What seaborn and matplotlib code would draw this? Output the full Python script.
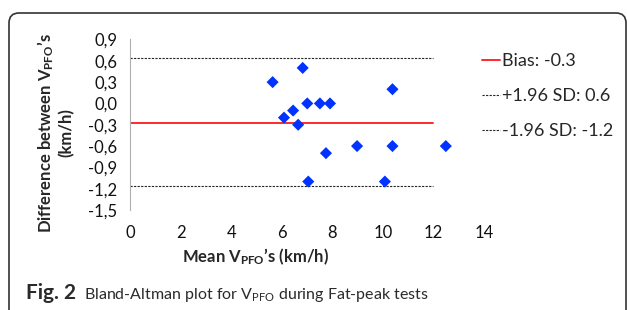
import matplotlib
matplotlib.use("Agg")
import matplotlib.pyplot as plt
import matplotlib.patches as mpatches
import matplotlib.transforms as mtransforms
from matplotlib.ticker import FuncFormatter
import pandas as pd
import seaborn as sns

# Data
mean_speed = [5.64, 6.83, 7.01, 7.51, 7.91, 10.38, 6.09, 6.45, 6.65, 7.75, 8.98, 10.38, 12.49, 7.05, 10.08]
speed_diff = [0.30, 0.50, 0.00, 0.00, 0.00, 0.20, -0.20, -0.10, -0.30, -0.70, -0.60, -0.60, -0.60, -1.10, -1.10]

line_x = [0, 12]
bias = -0.27
upper_loa = 0.635
lower_loa = -1.165
legend_labels = ["Bias: -0.3", "+1.96 SD: 0.6", "-1.96 SD: -1.2"]

x_ticks = [0, 2, 4, 6, 8, 10, 12, 14]
y_ticks = [-1.5, -1.2, -0.9, -0.6, -0.3, 0.0, 0.3, 0.6, 0.9]

# Style
sns.set_style("white")
plt.rcParams["font.family"] = ["Lato", "DejaVu Sans"]
plt.rcParams["mathtext.fontset"] = "custom"
plt.rcParams["mathtext.rm"] = "Lato"
plt.rcParams["mathtext.bf"] = "Lato:bold"
plt.rcParams["mathtext.default"] = "regular"

fig = plt.figure(figsize=(6.27, 3.10), dpi=100)
ax = fig.add_axes([130 / 627, 100 / 310, 354 / 627, 170.5 / 310])

points = pd.DataFrame({"mean": mean_speed, "diff": speed_diff})
sns.scatterplot(data=points, x="mean", y="diff", marker="D", s=38,
                color="#0033ff", edgecolor="none", ax=ax, zorder=3)

# Bias and limits of agreement
sns.lineplot(x=line_x, y=[bias, bias], color="#ff2a2a", linewidth=1.4,
             label=legend_labels[0], ax=ax)
sns.lineplot(x=line_x, y=[upper_loa, upper_loa], color="#222222", linewidth=0.8,
             linestyle=(0, (2, 1.2)), label=legend_labels[1], ax=ax)
sns.lineplot(x=line_x, y=[lower_loa, lower_loa], color="#222222", linewidth=0.8,
             linestyle=(0, (2, 1.2)), label=legend_labels[2], ax=ax)

ax.set_xlim(0, 14)
ax.set_ylim(-1.5, 0.9)
ax.set_xticks(x_ticks)
ax.set_yticks(y_ticks)
ax.yaxis.set_major_formatter(FuncFormatter(lambda v, p: f"{v:.1f}".replace(".", ",").replace("-0,0", "0,0")))
ax.tick_params(axis="both", length=0, labelsize=12, colors="#111111")
ax.tick_params(axis="x", pad=11)
ax.tick_params(axis="y", pad=9)
ax.set_xlabel("")
ax.set_ylabel("")

for side in ["top", "right", "bottom"]:
    ax.spines[side].set_visible(False)
ax.spines["left"].set_color("#b0b0b0")
ax.spines["left"].set_linewidth(0.8)

handles, labels = ax.get_legend_handles_labels()
ax.get_legend().remove()
fig.legend(handles, labels, loc="upper left", bbox_to_anchor=(482 / 627, 1 - 53 / 310),
           frameon=False, fontsize=13, handlelength=1.0, handletextpad=0.12,
           labelspacing=1.05, borderpad=0, borderaxespad=0)

# Axis titles
fig.text(256 / 627, 1 - 257 / 310, "Mean V$_{PFO}$’s (km/h)", ha="center", va="center",
         fontsize=12, fontweight="bold")
fig.text(55 / 627, 1 - 133 / 310, "Difference between V$_{PFO}$’s\n(km/h)", ha="center",
         va="center", rotation=90, fontsize=12, fontweight="bold", multialignment="center",
         linespacing=1.15)

# Caption: bold figure number, then the plain description right after it
fig_num = fig.text(26 / 627, 1 - 293 / 310, "Fig. 2", ha="left", va="center",
                   fontsize=15, fontweight="bold", color="#2a2a2a")
ax.annotate("Bland-Altman plot for V$_{PFO}$ during Fat-peak tests", xy=(1, 0),
            xycoords=fig_num, xytext=(6, -0.8), textcoords="offset points",
            ha="left", va="bottom", fontsize=11.5, color="#2a2a2a",
            family=["Liberation Sans Narrow", "Lato"], annotation_clip=False)

# Rounded frame around the figure
frame = mpatches.FancyBboxPatch((9, -30), 617, 297 + 30,
                                boxstyle="round,pad=0,rounding_size=10",
                                transform=mtransforms.IdentityTransform(),
                                facecolor="none", edgecolor="#333333", linewidth=1.2)
fig.patches.append(frame)

plt.savefig("out.png", dpi=100)
plt.close()
